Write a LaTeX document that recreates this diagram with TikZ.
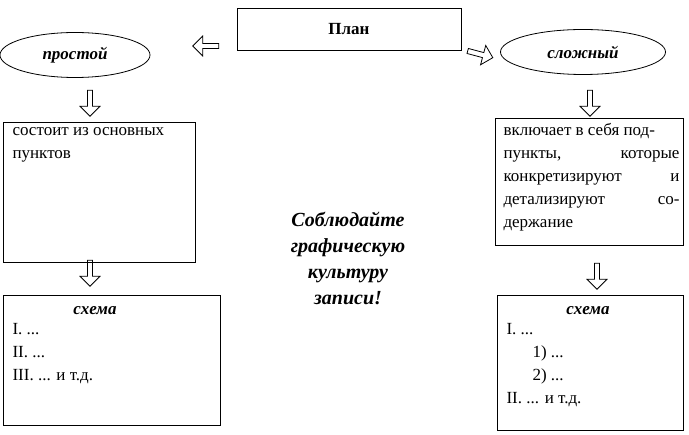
\documentclass[tikz,border=0pt]{standalone}
\usepackage{fontspec}
\setmainfont{Liberation Serif}
\usetikzlibrary{shapes.arrows,shapes.geometric}

\begin{document}
\begin{tikzpicture}[%
    x=1pt, y=-1pt,
    box/.style={%
        draw,
        thick,
        anchor=north west,
        inner sep=0pt
    },
    oval/.style={%
        draw,
        thick,
        ellipse,
        font=\fontsize{17}{20}\selectfont\bfseries\itshape
    },
    hollow/.style={%
        draw,
        thick,
        single arrow,
        single arrow head extend=4pt,
        minimum height=26pt,
        minimum width=20pt,
        inner sep=1pt
    },
    txt/.style={%
        font=\fontsize{17}{23}\selectfont,
        align=left,
        anchor=north west
    }
]
\useasboundingbox (0,0) rectangle (689,435);

% Top
\node[draw, thick, minimum width=224pt, minimum height=42pt,
      font=\fontsize{17}{20}\selectfont\bfseries] (plan) at (349,29) {План};
\node[oval, minimum width=150pt, minimum height=45pt] (simple) at (75,55) {простой};
\node[oval, minimum width=165pt, minimum height=45pt] (complex) at (583,52) {сложный};
\node[hollow, rotate=180] (arrowL) at (207,46) {};
\node[hollow, rotate=-15] (arrowR) at (479,54) {};

% Left column
\node[hollow, rotate=-90] (downL1) at (90,102) {};
\node[box, minimum width=192pt, minimum height=140pt] (partsL) at (3,122) {};
\node[txt] (textL) at (9,124) {состоит из основных\\пунктов};
\node[hollow, rotate=-90] (downL2) at (90,272) {};
\node[box, minimum width=217pt, minimum height=130pt] (schemeL) at (3,295) {};
\node[font=\fontsize{17}{20}\selectfont\bfseries\itshape] (headL) at (95,311) {схема};
\node[txt] (listL) at (9,320) {I. ...\\II. ...\\III. ... и т.д.};

% Right column
\node[hollow, rotate=-90] (downR1) at (590,102) {};
\node[box, minimum width=188pt, minimum height=127pt] (partsR) at (495,118) {};
\node[txt, text width=176pt, align=justify] (textR) at (500,120)
    {включает в себя под-\\пункты,\hfill которые\\конкретизируют\hfill и\\детализируют\hfill со-\\держание};
\node[hollow, rotate=-90] (downR2) at (597,275) {};
\node[box, minimum width=186pt, minimum height=135pt] (schemeR) at (497,295) {};
\node[font=\fontsize{17}{20}\selectfont\bfseries\itshape] (headR) at (588,311) {схема};
\node[txt] (listR) at (503,320) {I. ...\\\hspace{26pt}1) ...\\\hspace{26pt}2) ...\\II. ... и т.д.};

% Middle
\node[font=\fontsize{20}{26}\selectfont\bfseries\itshape, align=center] (note) at (348,258)
    {Соблюдайте\\графическую\\культуру\\записи!};
\end{tikzpicture}
\end{document}
